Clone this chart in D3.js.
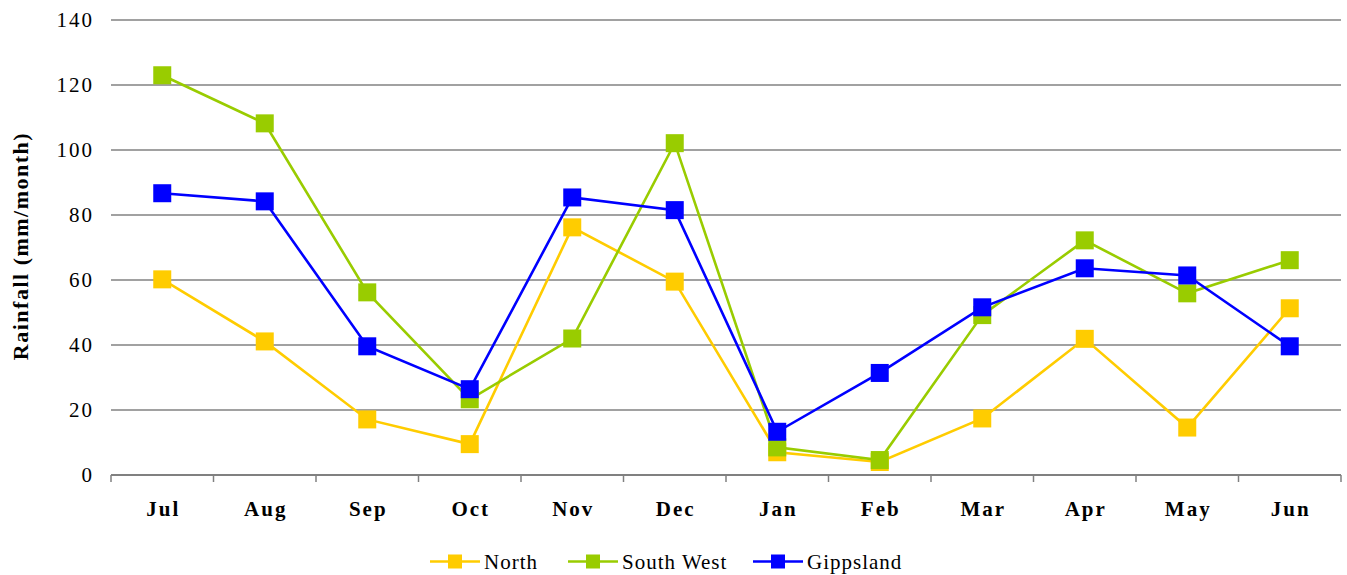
<!DOCTYPE html>
<html>
<head>
<meta charset="utf-8">
<script src="https://cdn.jsdelivr.net/npm/d3@7"></script>
<style>
  html, body { margin: 0; padding: 0; background: #fff; }
  svg { display: block; }
  text { font-family: "Liberation Serif", "Times New Roman", serif; fill: #000; }
</style>
</head>
<body>
<svg id="chart" width="1347" height="575"></svg>
<script>
// Monthly rainfall by district
const months = ["Jul", "Aug", "Sep", "Oct", "Nov", "Dec", "Jan", "Feb", "Mar", "Apr", "May", "Jun"];
const north = [60.2, 41.1, 17.1, 9.5, 76.2, 59.5, 7.0, 4.0, 17.4, 41.9, 14.6, 51.3];
const southWest = [123.0, 108.2, 56.2, 23.3, 42.0, 102.1, 8.5, 4.6, 49.2, 72.2, 55.9, 66.1];
const gippsland = [86.7, 84.2, 39.6, 26.4, 85.4, 81.5, 13.3, 31.4, 51.6, 63.6, 61.4, 39.6];
const yTicks = [0, 20, 40, 60, 80, 100, 120, 140];
const seriesNames = ["North", "South West", "Gippsland"];
const seriesColors = ["#FFCC00", "#99CC00", "#0000FF"];

const series = [north, southWest, gippsland].map((values, i) => ({
  name: seriesNames[i],
  color: seriesColors[i],
  values
}));

const svg = d3.select("#chart");
const plotLeft = 111, plotRight = 1341, plotTop = 20, plotBottom = 475;

const x = d3.scaleBand().domain(months).range([plotLeft, plotRight]).paddingInner(0).paddingOuter(0);
const y = d3.scaleLinear().domain([0, 140]).range([plotBottom, plotTop]);
const cx = m => x(m) + x.bandwidth() / 2;

// Horizontal gridlines
svg.append("g")
  .selectAll("line")
  .data(yTicks.filter(t => t > 0))
  .join("line")
  .attr("x1", plotLeft).attr("x2", plotRight)
  .attr("y1", d => y(d)).attr("y2", d => y(d))
  .attr("stroke", "#444").attr("stroke-width", 1.2);

// Y axis labels
const yAxis = svg.append("g")
  .attr("transform", `translate(${plotLeft},0)`)
  .call(d3.axisLeft(y).tickValues(yTicks).tickSize(0).tickPadding(17));
yAxis.select(".domain").remove();
yAxis.selectAll("text")
  .style("font-family", '"Liberation Serif", serif')
  .style("font-size", "21px")
  .style("letter-spacing", "2px")
  .attr("fill", "#000");

// X axis with tick marks at category boundaries
const xAxisG = svg.append("g").attr("transform", `translate(0,${plotBottom})`);
xAxisG.append("line")
  .attr("x1", plotLeft).attr("x2", plotRight)
  .attr("y1", 0).attr("y2", 0)
  .attr("stroke", "#808080").attr("stroke-width", 2);
const boundaries = months.map(m => x(m)).concat([plotRight]);
xAxisG.selectAll("line.tick")
  .data(boundaries)
  .join("line")
  .attr("class", "tick")
  .attr("x1", d => d).attr("x2", d => d)
  .attr("y1", 0).attr("y2", 7)
  .attr("stroke", "#808080").attr("stroke-width", 1.5);
svg.append("g")
  .selectAll("text")
  .data(months)
  .join("text")
  .attr("x", d => cx(d) + 1)
  .attr("y", 516)
  .attr("text-anchor", "middle")
  .style("font-size", "21px")
  .style("font-weight", "bold")
  .style("letter-spacing", "2px")
  .text(d => d);

// Y axis title
svg.append("text")
  .attr("transform", "translate(28,246) rotate(-90)")
  .attr("text-anchor", "middle")
  .style("font-size", "22px")
  .style("font-weight", "bold")
  .style("letter-spacing", "1.5px")
  .text("Rainfall (mm/month)");

// Series lines and square markers
const line = d3.line()
  .x((d, i) => cx(months[i]))
  .y(d => y(d));

const markerSize = 18;
series.forEach(s => {
  const g = svg.append("g");
  g.append("path")
    .datum(s.values)
    .attr("d", line)
    .attr("fill", "none")
    .attr("stroke", s.color)
    .attr("stroke-width", 2.6);
  g.selectAll("rect")
    .data(s.values)
    .join("rect")
    .attr("x", (d, i) => cx(months[i]) - markerSize / 2)
    .attr("y", d => y(d) - markerSize / 2)
    .attr("width", markerSize)
    .attr("height", markerSize)
    .attr("fill", s.color);
});

// Legend
const legendY = 561.5;
const legendX = [430, 568, 753];
const legend = svg.append("g");
series.forEach((s, i) => {
  const lx = legendX[i];
  legend.append("line")
    .attr("x1", lx).attr("x2", lx + 50)
    .attr("y1", legendY).attr("y2", legendY)
    .attr("stroke", s.color).attr("stroke-width", 2.6);
  legend.append("rect")
    .attr("x", lx + 25 - 7).attr("y", legendY - 7)
    .attr("width", 14).attr("height", 14)
    .attr("fill", s.color);
  legend.append("text")
    .attr("x", lx + 54)
    .attr("y", legendY + 7)
    .style("font-size", "21px")
    .style("letter-spacing", "1px")
    .text(s.name);
});
</script>
</body>
</html>
